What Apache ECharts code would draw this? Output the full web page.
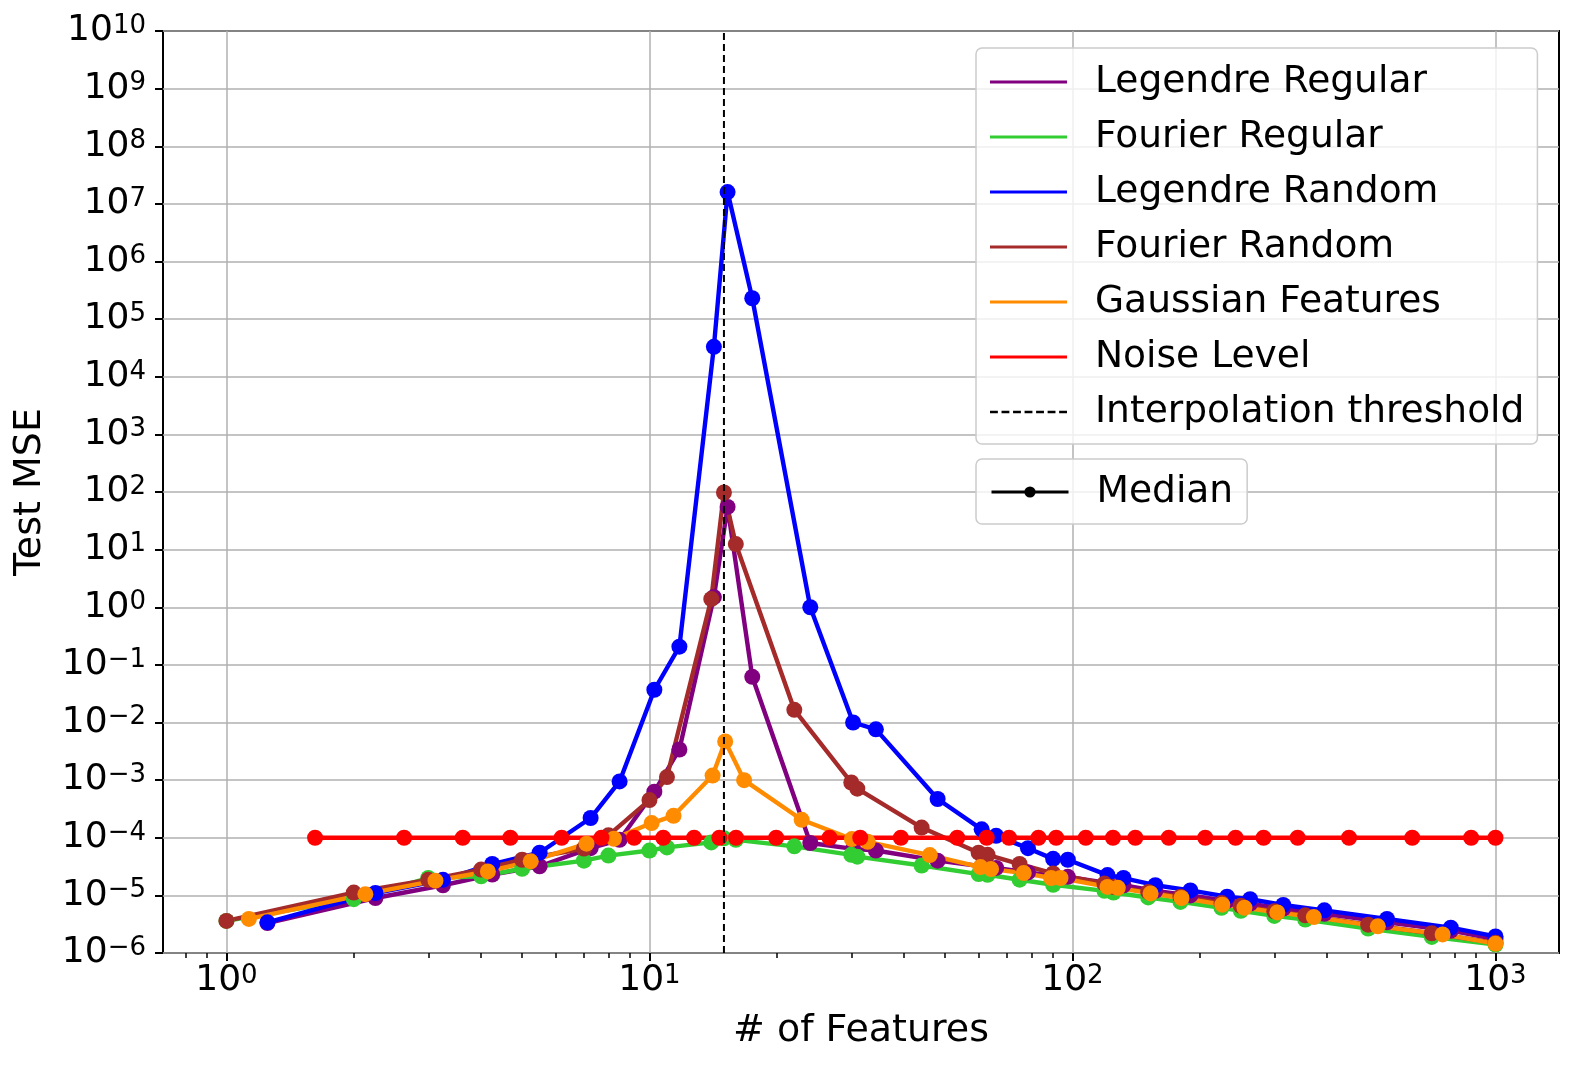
<!DOCTYPE html>
<html>
<head>
<meta charset="utf-8">
<script src="https://cdn.jsdelivr.net/npm/echarts@6/dist/echarts.min.js"></script>
<style>
  html, body { margin: 0; padding: 0; background: #fff; }
  #chart { width: 1582px; height: 1066px; }
</style>
</head>
<body>
<div id="chart"></div>
<script>
// feature counts used by each family
const fourierX = [1, 2, 3, 4, 5, 7, 8, 10, 11, 14, 15, 16, 22, 30, 31, 44, 60, 63, 75, 90,
  119, 125, 151, 180, 225, 250, 300, 355, 500, 707, 1000];
const legendreX = [1.25, 2.25, 3.25, 4.25, 5.5, 7.26, 8.5, 10.27, 11.77, 14.2, 15.3, 17.5, 24, 30.3, 34.3, 48,
  61, 66, 78.5, 90, 97.5, 121, 132, 157, 190, 232, 263, 315, 394, 554, 784, 1000];
const gaussianX = [1.13, 2.13, 3.12, 4.15, 5.24, 7.1, 8.24, 10.12, 11.4, 14.1, 15.1, 16.74, 22.9, 30.1, 32.8, 46,
  60.6, 64.2, 76.7, 89, 93.7, 121, 128, 153, 181, 226, 255, 305, 372, 527, 750, 1000];
const noiseX = [1.62, 2.63, 3.62, 4.69, 6.2, 7.7, 9.2, 10.78, 12.75, 14.63, 16.02, 19.93, 26.65, 31.5, 39.3, 53.4,
  62.7, 70.8, 83.1, 91.5, 107.5, 124.7, 140.8, 168.9, 206, 243, 283, 340.7, 450.6, 635.8, 876, 1000];

// median test MSE
const legendreRegular = [3.3e-6, 9e-6, 1.5e-5, 2.3e-5, 3.2e-5, 6.6e-5, 9.2e-5, 6.3e-4, 3.4e-3, 1.5, 55, 0.062,
  8.1e-5, 6.4e-5, 6.0e-5, 4.0e-5, 3.2e-5, 3.0e-5, 2.5e-5, 2.2e-5, 2.1e-5, 1.65e-5, 1.5e-5, 1.2e-5, 1.0e-5,
  8.0e-6, 7.2e-6, 5.9e-6, 4.8e-6, 3.4e-6, 2.45e-6, 1.75e-6];
const fourierRegular = [3.6e-6, 8.6e-6, 2.0e-5, 2.15e-5, 2.9e-5, 4.0e-5, 4.9e-5, 6.0e-5, 6.8e-5, 8.3e-5, 9.8e-5,
  9.2e-5, 7.1e-5, 5.05e-5, 4.7e-5, 3.3e-5, 2.34e-5, 2.28e-5, 1.87e-5, 1.53e-5, 1.2e-5, 1.12e-5, 9.2e-6, 7.7e-6,
  6.1e-6, 5.4e-6, 4.4e-6, 3.8e-6, 2.65e-6, 1.9e-6, 1.4e-6];
const legendreRandom = [3.4e-6, 1.1e-5, 1.86e-5, 3.5e-5, 5.5e-5, 2.2e-4, 9.5e-4, 0.037, 0.207, 3.3e4, 1.6e7, 2.3e5,
  1.0, 0.01, 7.6e-3, 4.7e-4, 1.4e-4, 1.08e-4, 6.6e-5, 4.3e-5, 4.15e-5, 2.25e-5, 2.0e-5, 1.5e-5, 1.22e-5, 9.5e-6,
  8.6e-6, 6.8e-6, 5.5e-6, 3.9e-6, 2.75e-6, 1.94e-6];
const fourierRandom = [3.6e-6, 1.12e-5, 1.86e-5, 2.8e-5, 4.15e-5, 6.5e-5, 1.1e-4, 4.5e-4, 1.13e-3, 1.39, 98, 12.5,
  0.0166, 9.1e-4, 7.1e-4, 1.5e-4, 5.5e-5, 5.05e-5, 3.5e-5, 2.4e-5, 1.6e-5, 1.4e-5, 1.15e-5, 9.5e-6, 7.4e-6,
  6.6e-6, 5.3e-6, 4.5e-6, 3.1e-6, 2.2e-6, 1.5e-6];
const gaussianFeatures = [3.9e-6, 1.05e-5, 1.8e-5, 2.6e-5, 3.9e-5, 7.9e-5, 9.6e-5, 1.8e-4, 2.4e-4, 1.2e-3, 4.7e-3,
  1.0e-3, 2.05e-4, 9.5e-5, 8.5e-5, 5.0e-5, 3.1e-5, 2.86e-5, 2.44e-5, 2.0e-5, 2.0e-5, 1.4e-5, 1.35e-5, 1.08e-5,
  9.0e-6, 6.9e-6, 6.1e-6, 5.06e-6, 4.2e-6, 2.9e-6, 2.1e-6, 1.45e-6];
const noiseLevel = 1e-4;
const threshold = 15;

// ticks
const xTicks = [1, 10, 100, 1000];
const xMinorTicks = [0.8, 0.9, 2, 3, 4, 5, 6, 7, 8, 9, 20, 30, 40, 50, 60, 70, 80, 90,
  200, 300, 400, 500, 600, 700, 800, 900];
const yTicks = [1e-6, 1e-5, 1e-4, 1e-3, 1e-2, 1e-1, 1, 1e1, 1e2, 1e3, 1e4, 1e5, 1e6, 1e7, 1e8, 1e9, 1e10];

const FONT = 'DejaVu Sans';
const xMin = 0.708, xMax = 1413;

const chart = echarts.init(document.getElementById('chart'));

function powLabel (v) {
  const e = Math.round(Math.log10(v));
  const s = e < 0 ? '\u2212' + (-e) : String(e);
  return '{b|10}{s|' + s + '}';
}

const labelRich = {
  b: { fontSize: 36, fontFamily: FONT, color: '#000', lineHeight: 36, verticalAlign: 'bottom', padding: [2, 0, 0, 0] },
  s: { fontSize: 26, fontFamily: FONT, color: '#000', lineHeight: 26, verticalAlign: 'top' }
};

// one line series per family, circles at every median
function curve (name, color, xs, ys) {
  return {
    name: name,
    type: 'line',
    xAxisIndex: 0,
    data: xs.map((x, i) => [x, ys[i]]),
    symbol: 'circle',
    symbolSize: 16,
    showSymbol: true,
    lineStyle: { color: color, width: 4.4 },
    itemStyle: { color: color },
    emphasis: { disabled: true }
  };
}

const series = [
  curve('Legendre Regular', '#800080', legendreX, legendreRegular),
  curve('Fourier Regular', '#32cd32', fourierX, fourierRegular),
  curve('Legendre Random', '#0000ff', legendreX, legendreRandom),
  curve('Fourier Random', '#a52a2a', fourierX, fourierRandom),
  curve('Gaussian Features', '#ff8c00', gaussianX, gaussianFeatures),
  curve('Noise Level', '#ff0000', noiseX, noiseX.map(() => noiseLevel)),
  {
    name: 'Interpolation threshold',
    type: 'line',
    data: [[threshold, yTicks[0]], [threshold, yTicks[yTicks.length - 1]]],
    symbol: 'none',
    lineStyle: { color: '#000', width: 2, type: [7, 4] },
    itemStyle: { color: '#000' },
    emphasis: { disabled: true },
    z: 5
  },
  {
    // legend only
    name: 'Median',
    type: 'line',
    data: [],
    symbol: 'circle',
    symbolSize: 12,
    lineStyle: { color: '#000', width: 3 },
    itemStyle: { color: '#000' }
  }
];

const dashIcon = 'path://M0,0h7.5v2.5h-7.5z M11,0h7.5v2.5h-7.5z M22,0h7.5v2.5h-7.5z M33,0h7.5v2.5h-7.5z ' +
  'M44,0h7.5v2.5h-7.5z M55,0h7.5v2.5h-7.5z M66,0h7.5v2.5h-7.5z';

const legendBox = {
  orient: 'vertical',
  left: 976,
  itemWidth: 77,
  itemGap: 5,
  selectedMode: false,
  backgroundColor: 'rgba(255,255,255,0.8)',
  borderColor: '#cccccc',
  borderWidth: 1.5,
  borderRadius: 6,
  textStyle: { fontSize: 37.6, fontFamily: FONT, color: '#000', lineHeight: 50, padding: [0, 0, 0, 23] }
};

const option = {
  animation: false,
  backgroundColor: '#fff',
  grid: {
    left: 163, right: 23, top: 31, bottom: 113,
    show: true, borderColor: '#000', borderWidth: 2, backgroundColor: 'transparent'
  },
  legend: [
    Object.assign({}, legendBox, {
      top: 48,
      icon: 'rect',
      itemHeight: 3,
      padding: [9, 13, 7, 14],
      data: ['Legendre Regular', 'Fourier Regular', 'Legendre Random', 'Fourier Random',
        'Gaussian Features', 'Noise Level', { name: 'Interpolation threshold', icon: dashIcon }]
    }),
    Object.assign({}, legendBox, {
      top: 459,
      itemHeight: 14,
      padding: [8, 14, 7, 14],
      lineStyle: { width: 3 },
      data: ['Median']
    })
  ],
  xAxis: [
    {
      type: 'log',
      min: xMin,
      max: xMax,
      name: '# of Features',
      nameLocation: 'middle',
      nameGap: 59,
      nameTextStyle: { fontSize: 38, fontFamily: FONT, color: '#000' },
      axisLine: { show: false },
      axisTick: { show: true, customValues: xTicks, length: 8, lineStyle: { color: '#000', width: 2 } },
      axisLabel: { customValues: xTicks, formatter: powLabel, rich: labelRich, margin: 10 },
      splitLine: { show: true, lineStyle: { color: '#b0b0b0', width: 1.5 } },
      minorTick: { show: false }
    },
    {
      // minor ticks only
      type: 'log',
      min: xMin,
      max: xMax,
      position: 'bottom',
      axisLine: { show: false },
      axisLabel: { show: false },
      splitLine: { show: false },
      axisTick: { show: true, customValues: xMinorTicks, length: 5, lineStyle: { color: '#000', width: 1.5 } }
    }
  ],
  yAxis: {
    type: 'log',
    min: yTicks[0],
    max: yTicks[yTicks.length - 1],
    name: 'Test MSE',
    nameLocation: 'middle',
    nameGap: 114,
    nameTextStyle: { fontSize: 38, fontFamily: FONT, color: '#000' },
    axisLine: { show: false },
    axisTick: { show: true, customValues: yTicks, length: 8, lineStyle: { color: '#000', width: 2 } },
    axisLabel: { customValues: yTicks, formatter: powLabel, rich: labelRich, margin: 17 },
    splitLine: { show: true, lineStyle: { color: '#b0b0b0', width: 1.5 } }
  },
  series: series
};

chart.setOption(option);
</script>
</body>
</html>
